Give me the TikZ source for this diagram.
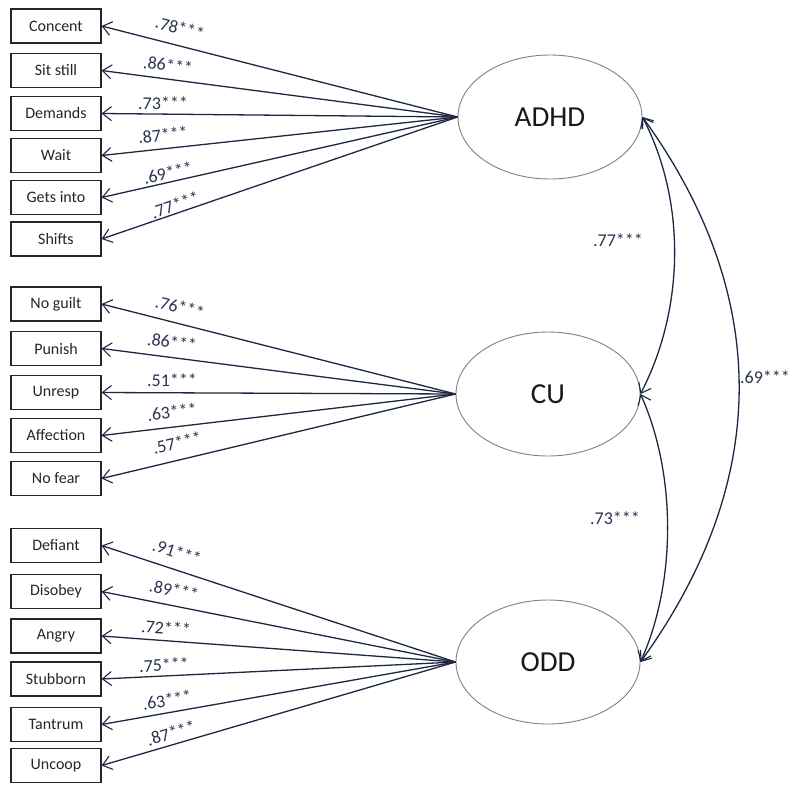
\documentclass[tikz,border=0pt]{standalone}
\usepackage{fontspec}
\setmainfont{Carlito}
\usetikzlibrary{arrows.meta,shapes.geometric}
\definecolor{ln}{HTML}{1C2741}
\definecolor{tx}{HTML}{2B3350}
\begin{document}
\begin{tikzpicture}[x=1pt,y=-1pt,
 ind/.style={draw=black!85, line width=1.2pt, minimum width=90pt, minimum height=34pt, inner sep=0pt, font=\fontsize{16}{18}\selectfont, text=black!85},
 lat/.style={ellipse, draw=black!50, line width=0.9pt, minimum width=184pt, minimum height=124pt, inner sep=0pt, font=\fontsize{29}{32}\selectfont, text=black!90},
 tip/.tip={Straight Barb[length=9pt,width=14pt,line width=1.1pt]},
 load/.style={draw=ln, line width=1.3pt, -tip},
 coef/.style={font=\fontsize{18}{20}\selectfont, text=tx, inner sep=0pt},
 corr/.style={draw=ln, line width=1.3pt, tip-tip},
 clab/.style={font=\fontsize{18}{20}\selectfont, text=tx},
]
\useasboundingbox (0,0) rectangle (800,790);
% latent variables
\node[lat] (adhd) at (550,117) {ADHD};
\node[lat] (cu) at (548,394) {CU};
\node[lat] (odd) at (548,662) {ODD};
% indicators
\node[ind] (i1) at (56,26) {Concent};
\node[ind] (i2) at (56,70.5) {Sit still};
\node[ind] (i3) at (56,113.5) {Demands};
\node[ind] (i4) at (56,155.5) {Wait};
\node[ind] (i5) at (56,197.5) {Gets into};
\node[ind] (i6) at (56,239) {Shifts};
\node[ind] (c1) at (56,304) {No guilt};
\node[ind] (c2) at (56,348.5) {Punish};
\node[ind] (c3) at (56,392.5) {Unresp};
\node[ind] (c4) at (56,435.5) {Affection};
\node[ind] (c5) at (56,478.5) {No fear};
\node[ind] (o1) at (56,545.5) {Defiant};
\node[ind] (o2) at (56,591.5) {Disobey};
\node[ind] (o3) at (56,636) {Angry};
\node[ind] (o4) at (56,679) {Stubborn};
\node[ind] (o5) at (56,724.5) {Tantrum};
\node[ind] (o6) at (56,765.5) {Uncoop};
% loadings
\draw[load] (adhd.west) -- (i1.east);
\draw[load] (adhd.west) -- (i2.east);
\draw[load] (adhd.west) -- (i3.east);
\draw[load] (adhd.west) -- (i4.east);
\draw[load] (adhd.west) -- (i5.east);
\draw[load] (adhd.west) -- (i6.east);
\draw[load] (cu.west) -- (c1.east);
\draw[load] (cu.west) -- (c2.east);
\draw[load] (cu.west) -- (c3.east);
\draw[load] (cu.west) -- (c4.east);
\draw[load] (cu.west) -- (c5.east);
\draw[load] (odd.west) -- (o1.east);
\draw[load] (odd.west) -- (o2.east);
\draw[load] (odd.west) -- (o3.east);
\draw[load] (odd.west) -- (o4.east);
\draw[load] (odd.west) -- (o5.east);
\draw[load] (odd.west) -- (o6.east);
% loading labels
\node[coef, rotate=-14.3] (li1) at (180,28) {.78***};
\node[coef, rotate=-7.4] (li2) at (168,65) {.86***};
\node[coef, rotate=-0.6] (li3) at (163,103) {.73***};
\node[coef, rotate=6.2] (li4) at (163,135) {.87***};
\node[coef, rotate=12.7] (li5) at (168,173) {.69***};
\node[coef, rotate=18.9] (li6) at (175,205) {.77***};
\node[coef, rotate=-14.2] (lc1) at (180,307) {.76***};
\node[coef, rotate=-7.3] (lc2) at (172,342) {.86***};
\node[coef, rotate=-0.2] (lc3) at (172,380) {.51***};
\node[coef, rotate=6.7] (lc4) at (172,412) {.63***};
\node[coef, rotate=13.4] (lc5) at (177,443) {.57***};
\node[coef, rotate=-18.2] (lo1) at (177,552) {.91***};
\node[coef, rotate=-11.2] (lo2) at (174,590) {.89***};
\node[coef, rotate=-4.2] (lo3) at (166,628) {.72***};
\node[coef, rotate=2.7] (lo4) at (164,665) {.75***};
\node[coef, rotate=10.0] (lo5) at (167,700) {.63***};
\node[coef, rotate=16.3] (lo6) at (171,733) {.87***};
% correlations
\draw[corr] (adhd.east) .. controls +(44,85) and +(44,-85) .. (cu.east);
\draw[corr] (cu.east) .. controls +(36,80) and +(36,-80) .. (odd.east);
\draw[corr] (adhd.east) .. controls +(130,180) and +(130,-180) .. (odd.east);
\node[clab] (r1) at (618,240) {.77***};
\node[clab] (r2) at (615,518) {.73***};
\node[clab] (r3) at (765,377) {.69***};
\end{tikzpicture}
\end{document}
